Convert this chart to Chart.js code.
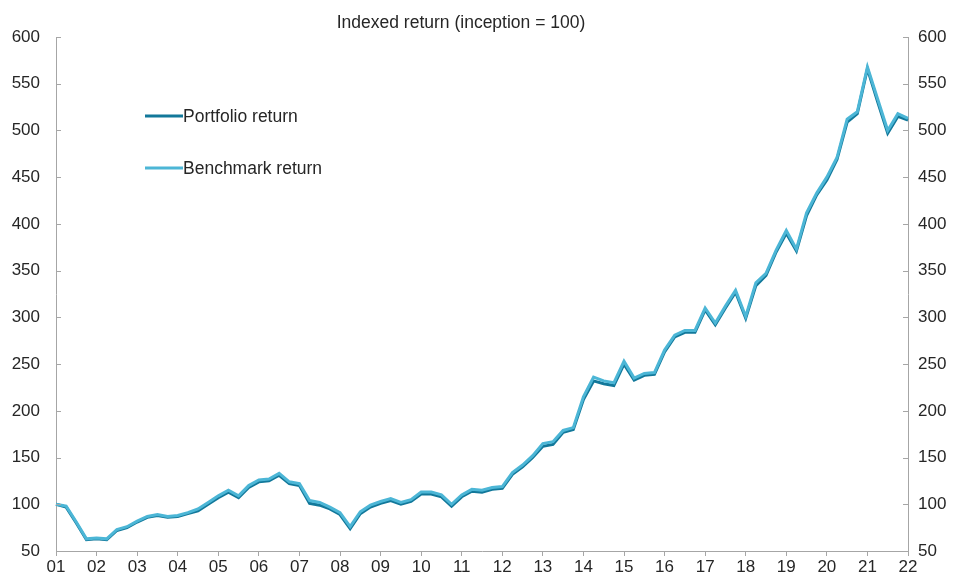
<!DOCTYPE html>
<html lang="en">

<head>
  <meta charset="UTF-8" />
  <title>Indexed return (inception = 100)</title>
  <script src="https://cdn.jsdelivr.net/npm/chart.js@4.4.1/dist/chart.umd.min.js"></script>
  <style>
    body {
      margin: 0;
      background: #fff;
      font-family: "Liberation Sans", Arial, sans-serif;
    }

    .chart-container {
      position: relative;
      width: 959px;
      height: 578px;
    }
  </style>
</head>

<body>
  <div class="chart-container">
    <canvas id="returns"></canvas>
  </div>
  <script>
    const titleText = "Indexed return (inception = 100)";
    const yearLabels = ["01", "02", "03", "04", "05", "06", "07", "08", "09", "10", "11",
      "12", "13", "14", "15", "16", "17", "18", "19", "20", "21", "22"];
    const yTicks = [50, 100, 150, 200, 250, 300, 350, 400, 450, 500, 550, 600];

    // quarterly index values, one per quarter from start of 01 to start of 22
    const portfolio = [100, 97, 80, 62, 63, 62, 72, 75, 81, 86, 88, 86, 87, 90, 93, 100,
      107, 113, 107, 118, 124, 125, 131, 122, 120, 101, 99, 95, 89, 74, 90, 97,
      101, 104, 100, 103, 111, 111, 108, 98, 108, 114, 113, 116, 117, 132, 140, 150,
      162, 164, 177, 180, 212, 232, 229, 227, 250, 233, 238, 239, 263, 279, 284, 284,
      308, 292, 310, 327, 299, 334, 345, 370, 390, 371, 409, 431, 447, 469, 509, 518,
      566, 531, 497, 515, 511];
    const benchmark = [100, 98, 81, 63, 64, 63, 73, 76, 82, 87, 89, 87, 88, 91, 95, 102,
      109, 115, 109, 120, 126, 127, 133, 124, 122, 104, 102, 97, 91, 76, 92, 99,
      103, 106, 102, 105, 113, 113, 110, 100, 110, 116, 115, 118, 119, 134, 142, 152,
      165, 167, 179, 182, 215, 236, 232, 230, 253, 235, 240, 241, 265, 281, 286, 286,
      310, 294, 312, 329, 301, 337, 347, 372, 393, 373, 412, 433, 450, 471, 512, 520,
      568, 534, 500, 518, 513];

    const quarters = [];
    yearLabels.forEach((yy, i) => {
      if (i === yearLabels.length - 1) {
        quarters.push(yy + " Q1");
      } else {
        ["Q1", "Q2", "Q3", "Q4"].forEach(q => quarters.push(yy + " " + q));
      }
    });

    const darkBlue = "#12789a";
    const lightBlue = "#4cb6d6";
    const axisGrey = "#a6a6a6";
    const textColor = "#262626";
    const font = "Liberation Sans, Arial, sans-serif";

    // title, legend and the inward tick marks on both y axes
    const extras = {
      id: "extras",
      afterDraw(chart) {
        const ctx = chart.ctx;
        const area = chart.chartArea;
        const y = chart.scales.y;
        ctx.save();
        ctx.strokeStyle = axisGrey;
        ctx.lineWidth = 1;
        yTicks.forEach(v => {
          const py = Math.round(y.getPixelForValue(v)) + 0.5;
          ctx.beginPath();
          ctx.moveTo(area.left, py);
          ctx.lineTo(area.left + 5, py);
          ctx.moveTo(area.right - 5, py);
          ctx.lineTo(area.right, py);
          ctx.stroke();
        });

        ctx.fillStyle = textColor;
        ctx.font = "17.5px " + font;
        ctx.textAlign = "center";
        ctx.textBaseline = "middle";
        ctx.fillText(titleText, 461, 23);

        const items = [
          { label: "Portfolio return", color: darkBlue, y: 116 },
          { label: "Benchmark return", color: lightBlue, y: 168 }
        ];
        ctx.textAlign = "left";
        ctx.font = "17.5px " + font;
        items.forEach(it => {
          ctx.strokeStyle = it.color;
          ctx.lineWidth = 3;
          ctx.beginPath();
          ctx.moveTo(145, it.y);
          ctx.lineTo(183, it.y);
          ctx.stroke();
          ctx.fillStyle = textColor;
          ctx.fillText(it.label, 183, it.y + 1);
        });
        ctx.restore();
      }
    };

    const yAxis = (position, pad, width) => ({
      type: "linear",
      position: position,
      min: 50,
      max: 600,
      afterBuildTicks: scale => {
        scale.ticks = yTicks.map(v => ({ value: v }));
      },
      afterFit: scale => {
        scale.width = width;
      },
      grid: { display: false, drawTicks: false },
      border: { display: true, color: axisGrey, width: 1 },
      ticks: {
        color: textColor,
        padding: pad,
        font: { size: 17, family: font }
      }
    });

    new Chart(document.getElementById("returns"), {
      type: "line",
      data: {
        labels: quarters,
        datasets: [{
          label: "Portfolio return",
          data: portfolio,
          borderColor: darkBlue,
          borderWidth: 3,
          pointRadius: 0,
          tension: 0,
          order: 1
        }, {
          label: "Benchmark return",
          data: benchmark,
          borderColor: lightBlue,
          borderWidth: 3,
          pointRadius: 0,
          tension: 0,
          order: 0
        }]
      },
      options: {
        responsive: true,
        maintainAspectRatio: false,
        animation: false,
        layout: {
          padding: { top: 37, left: 0, right: 0, bottom: 0 }
        },
        plugins: {
          legend: { display: false },
          title: { display: false },
          tooltip: { enabled: false }
        },
        scales: {
          x: {
            afterFit: scale => {
              scale.height = 27;
            },
            grid: {
              drawOnChartArea: false,
              drawTicks: true,
              tickLength: 5,
              color: c => (c.index % 4 === 0 ? axisGrey : "rgba(0,0,0,0)")
            },
            border: { display: true, color: axisGrey, width: 1 },
            ticks: {
              autoSkip: false,
              maxRotation: 0,
              padding: 1,
              color: textColor,
              font: { size: 17, family: font },
              callback: (val, idx) => (idx % 4 === 0 ? yearLabels[idx / 4] : "")
            }
          },
          y: yAxis("left", 16, 56),
          y2: yAxis("right", 10, 51)
        }
      },
      plugins: [extras]
    });
  </script>
</body>

</html>
